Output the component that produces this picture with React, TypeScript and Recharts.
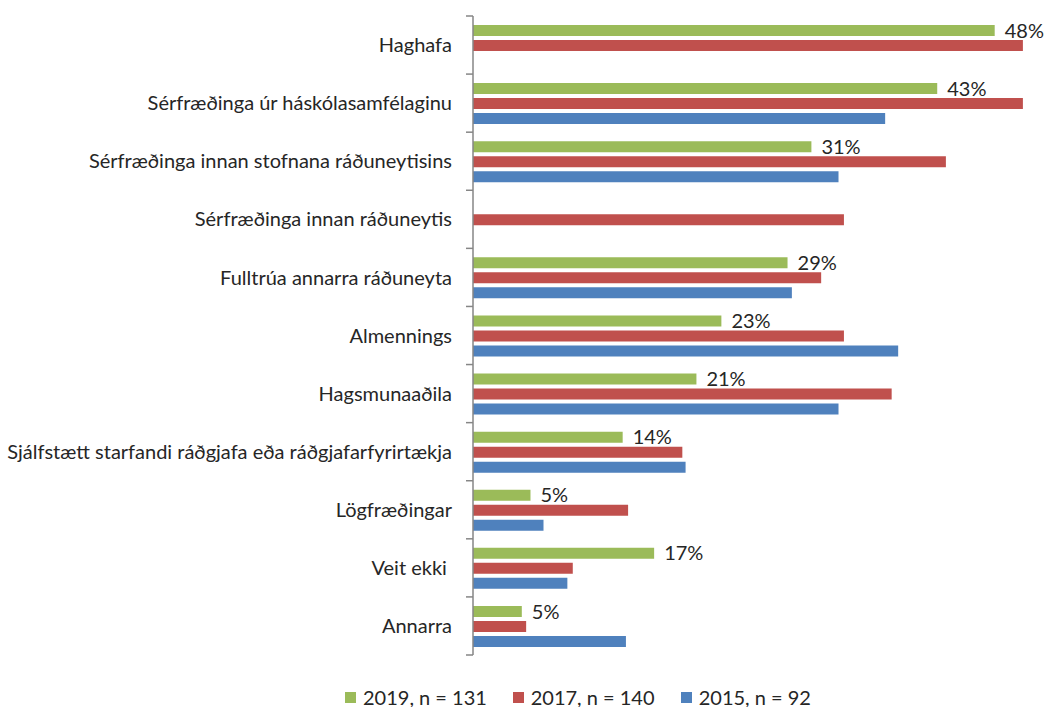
import React from 'react';
import { BarChart, Bar, XAxis, YAxis, Legend, LabelList } from 'recharts';

const categories = [
  'Haghafa',
  'Sérfræðinga úr háskólasamfélaginu',
  'Sérfræðinga innan stofnana ráðuneytisins',
  'Sérfræðinga innan ráðuneytis',
  'Fulltrúa annarra ráðuneyta',
  'Almennings',
  'Hagsmunaaðila',
  'Sjálfstætt starfandi ráðgjafa eða ráðgjafarfyrirtækja',
  'Lögfræðingar',
  'Veit ekki\u00a0',
  'Annarra',
];

const values2019: (number | null)[] = [48.1, 42.8, 31.2, null, 29.0, 22.9, 20.6, 13.8, 5.3, 16.7, 4.5];
const values2017: (number | null)[] = [50.7, 50.7, 43.6, 34.2, 32.1, 34.2, 38.6, 19.3, 14.3, 9.2, 4.9];
const values2015: (number | null)[] = [null, 38.0, 33.7, null, 29.4, 39.2, 33.7, 19.6, 6.5, 8.7, 14.1];

const seriesNames = ['2019, n = 131', '2017, n = 140', '2015, n = 92'];
const seriesColors = ['#9BBB59', '#C0504D', '#4F81BD'];

const data = categories.map((name, i) => ({
  name,
  y2019: values2019[i],
  y2017: values2017[i],
  y2015: values2015[i],
}));

const FONT = 'Lato, "Open Sans", sans-serif';
const TEXT = '#262626';
const AXIS = '#868686';
const FS = 20;

const W = 1046;
const H = 707;
const MARGIN = { top: 16, right: 9, left: 0, bottom: 52 };
const PLOT_H = H - MARGIN.top - MARGIN.bottom;
const BAND = PLOT_H / categories.length;

const CategoryTick = (props: any) => {
  const { x, y, payload, index } = props;
  const last = index === categories.length - 1;
  return (
    <g>
      <line x1={x - 7} x2={x} y1={y - BAND / 2} y2={y - BAND / 2} stroke={AXIS} strokeWidth={1.5} />
      {last && (
        <line x1={x - 7} x2={x} y1={y + BAND / 2} y2={y + BAND / 2} stroke={AXIS} strokeWidth={1.5} />
      )}
      <text
        x={x - 21}
        y={y}
        dy="0.355em"
        textAnchor="end"
        fill={TEXT}
        fontSize={FS}
        fontFamily={FONT}
        style={{ whiteSpace: 'pre' }}
      >
        {payload.value}
      </text>
    </g>
  );
};

const legendX = [345, 512.7, 680.7];

const LegendContent = () => (
  <div style={{ position: 'relative', width: W, height: 18, fontFamily: FONT }}>
    {seriesNames.map((n, i) => (
      <div
        key={n}
        style={{
          position: 'absolute',
          left: legendX[i],
          top: 0,
          height: 18,
          display: 'flex',
          alignItems: 'center',
          whiteSpace: 'nowrap',
        }}
      >
        <span style={{ display: 'inline-block', width: 11, height: 11, background: seriesColors[i], marginRight: 7 }} />
        <span style={{ fontSize: FS, lineHeight: '18px', color: TEXT }}>{n}</span>
      </div>
    ))}
  </div>
);

const fmt = (v: any) => (v === null || v === undefined ? '' : `${Math.round(Number(v))}%`);

export default function App() {
  return (
    <div style={{ position: 'absolute', left: 0, top: 0, width: W, height: H, background: '#fff' }}>
      <BarChart
        width={W}
        height={H}
        data={data}
        layout="vertical"
        margin={MARGIN}
        barSize={11}
        barGap={4}
      >
        <XAxis type="number" domain={[0, 52]} hide />
        <YAxis
          type="category"
          dataKey="name"
          width={473}
          tickLine={false}
          tickSize={0}
          tickMargin={0}
          axisLine={{ stroke: AXIS, strokeWidth: 1.5 }}
          tick={<CategoryTick />}
          interval={0}
        />
        <Legend
          layout="horizontal"
          verticalAlign="middle"
          align="center"
          content={<LegendContent />}
          wrapperStyle={{ top: 688, left: 0, width: W, height: 18 }}
        />
        <Bar dataKey="y2019" name={seriesNames[0]} fill={seriesColors[0]} isAnimationActive={false}>
          <LabelList
            dataKey="y2019"
            position="right"
            offset={10}
            formatter={fmt}
            fill={TEXT}
            fontSize={FS}
            fontFamily={FONT}
          />
        </Bar>
        <Bar dataKey="y2017" name={seriesNames[1]} fill={seriesColors[1]} isAnimationActive={false} />
        <Bar dataKey="y2015" name={seriesNames[2]} fill={seriesColors[2]} isAnimationActive={false} />
      </BarChart>
    </div>
  );
}
